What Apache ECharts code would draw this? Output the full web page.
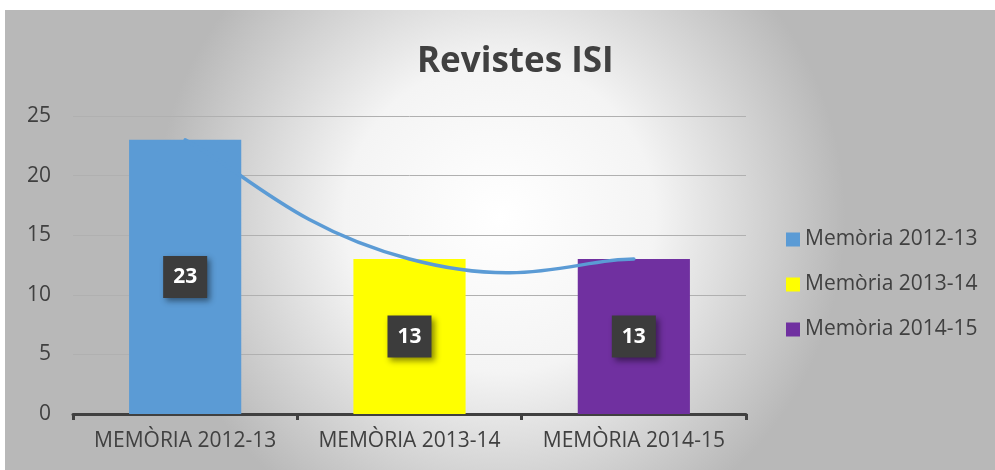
<!DOCTYPE html>
<html>
<head>
<meta charset="utf-8">
<script src="https://cdn.jsdelivr.net/npm/echarts@6/dist/echarts.min.js"></script>
<style>
  html, body { margin: 0; padding: 0; background: #fff; }
  #chart { position: absolute; left: 5px; top: 10px; width: 990px; height: 460px; }
</style>
</head>
<body>
<div id="chart"></div>
<script>
// data
var categories = ['MEMÒRIA 2012-13', 'MEMÒRIA 2013-14', 'MEMÒRIA 2014-15'];
var seriesNames = ['Memòria 2012-13', 'Memòria 2013-14', 'Memòria 2014-15'];
var values = [23, 13, 13];
var colors = ['#5b9bd5', '#ffff00', '#7030a0'];

var chart = echarts.init(document.getElementById('chart'));
var font = '"Open Sans", sans-serif';

var barSeries = seriesNames.map(function (name, i) {
  var d = values.map(function (v, j) { return j === i ? v : '-'; });
  return {
    name: name,
    type: 'bar',
    stack: 'all',
    barWidth: '50%',
    data: d,
    itemStyle: { color: colors[i] },
    label: {
      show: true,
      position: 'inside',
      color: '#fff',
      fontFamily: font,
      fontWeight: 'bold',
      fontSize: 21,
      lineHeight: 24,
      backgroundColor: '#3c3c3c',
      padding: [9, 10, 9, 10],
      shadowColor: 'rgba(0,0,0,0.45)',
      shadowBlur: 6,
      shadowOffsetX: 3,
      shadowOffsetY: 3
    }
  };
});

// smoothed trend line (Excel-like spline) through the bar values
var tension = 0.26;
function renderTrend(params, api) {
  if (params.dataIndex !== 0) return null;
  var pts = values.map(function (v, i) { return api.coord([i, v]); });
  var d = 'M' + pts[0][0] + ',' + pts[0][1];
  for (var i = 0; i < pts.length - 1; i++) {
    var p0 = pts[i - 1] || pts[i];
    var p1 = pts[i];
    var p2 = pts[i + 1];
    var p3 = pts[i + 2] || pts[i + 1];
    var c1 = [p1[0] + (p2[0] - p0[0]) * tension, p1[1] + (p2[1] - p0[1]) * tension];
    var c2 = [p2[0] - (p3[0] - p1[0]) * tension, p2[1] - (p3[1] - p1[1]) * tension];
    d += ' C' + c1[0] + ',' + c1[1] + ' ' + c2[0] + ',' + c2[1] + ' ' + p2[0] + ',' + p2[1];
  }
  return {
    type: 'path',
    shape: { pathData: d },
    style: { fill: 'none', stroke: '#5b9bd5', lineWidth: 3.5, lineCap: 'round' }
  };
}

chart.setOption({
  backgroundColor: {
    type: 'radial', x: 0.5, y: 0.45, r: 0.75,
    colorStops: [
      { offset: 0, color: '#ffffff' },
      { offset: 0.45, color: '#f4f4f4' },
      { offset: 1, color: '#b8b8b8' }
    ]
  },
  textStyle: { fontFamily: font },
  title: {
    text: 'Revistes ISI',
    left: 407,
    top: 30,
    textStyle: { fontSize: 35, fontWeight: 'bold', color: '#404040', fontFamily: font }
  },
  legend: {
    orient: 'vertical',
    left: 776,
    top: 214,
    itemGap: 24,
    itemWidth: 14,
    itemHeight: 14,
    icon: 'rect',
    data: seriesNames,
    textStyle: { fontSize: 21, color: '#404040', fontFamily: font }
  },
  grid: { left: 68, right: 249, top: 106, bottom: 56 },
  xAxis: {
    type: 'category',
    data: categories,
    axisLine: { lineStyle: { color: '#404040', width: 3 } },
    axisTick: { show: true, length: 6, lineStyle: { color: '#404040', width: 3 } },
    axisLabel: { interval: 0, hideOverlap: false, fontSize: 21, color: '#404040', margin: 17, fontFamily: font }
  },
  yAxis: {
    type: 'value',
    min: 0,
    max: 25,
    interval: 5,
    axisLine: { show: false },
    axisTick: { show: false },
    axisLabel: { fontSize: 21, color: '#404040', margin: 22, fontFamily: font },
    splitLine: { lineStyle: { color: '#b0b0b0', width: 1 } }
  },
  series: barSeries.concat([{
    name: 'trend',
    type: 'custom',
    data: values.map(function (v, i) { return [i, v]; }),
    renderItem: renderTrend,
    z: 5,
    silent: true
  }])
});
</script>
</body>
</html>
